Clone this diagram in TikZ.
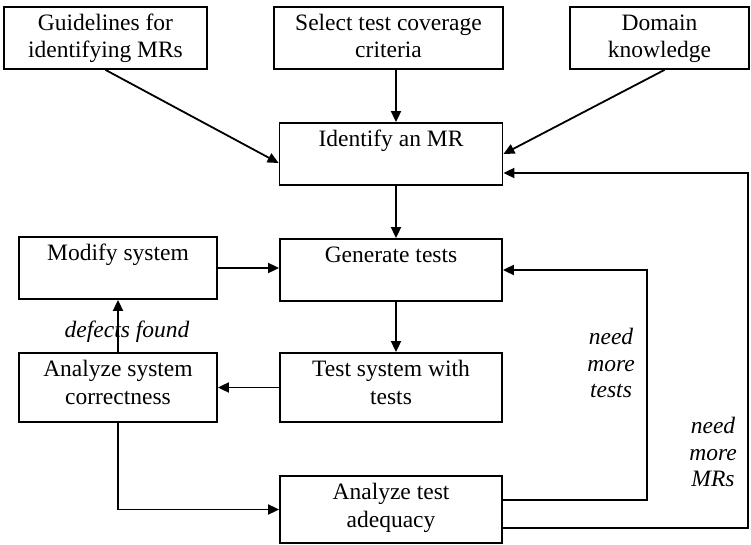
\documentclass[tikz,border=0pt]{standalone}
\usepackage{fontspec}
\setmainfont{Liberation Serif}
\usetikzlibrary{arrows.meta}
\newcommand{\boxtxt}[3]{\begin{minipage}[t][#2][t]{#1}\centering\rule{0pt}{23.5pt}#3\end{minipage}}
\begin{document}
\begin{tikzpicture}[x=1pt,y=-1pt,
  box/.style={draw, line width=1.8pt, inner sep=0pt, font=\fontsize{23.5}{27.5}\selectfont},
  arr/.style={line width=1.8pt, -{Triangle[length=11pt,width=10pt]}},
  lbl/.style={align=center, inner sep=0pt, font=\fontsize{23.5}{26.5}\selectfont\itshape}]
\useasboundingbox (0,0) rectangle (751,545);
\node[box] (guide) at (105.5,38) {\boxtxt{203pt}{62pt}{Guidelines for\\identifying MRs}};
\node[box] (select) at (388.5,38) {\boxtxt{229pt}{62pt}{Select test coverage\\criteria}};
\node[box] (domain) at (659.5,38) {\boxtxt{179pt}{62pt}{Domain\\knowledge}};
\node[box] (identify) at (391,154) {\boxtxt{223pt}{62pt}{Identify an MR}};
\node[box] (modify) at (118,268) {\boxtxt{198pt}{62pt}{Modify system}};
\node[box] (generate) at (391,270) {\boxtxt{222pt}{62pt}{Generate tests}};
\node[box] (anasys) at (118,387.5) {\boxtxt{198pt}{69pt}{Analyze system\\correctness}};
\node[box] (testsys) at (391,387.5) {\boxtxt{222pt}{69pt}{Test system with\\tests}};
\node[box] (adequacy) at (391,509.5) {\boxtxt{222pt}{67pt}{Analyze test\\adequacy}};
\coordinate (cx) at (396,0);
\coordinate (rtests) at (647,0);
\coordinate (rmrs) at (748,0);
\coordinate (mrin) at ([yshift=-19pt]identify.east);
\draw[arr] (guide.south) -- ([yshift=-9pt]identify.west);
\draw[arr] (select.south -| cx) -- (identify.north -| cx);
\draw[arr] ([xshift=5pt]domain.south) -- (identify.east);
\draw[arr] (identify.south -| cx) -- (generate.north -| cx);
\draw[arr] (generate.south -| cx) -- (testsys.north -| cx);
\draw[arr] (modify.east) -- (modify.east -| generate.west);
\draw[arr] (testsys.west) -- (testsys.west -| anasys.east);
\draw[arr] (anasys.north) -- (modify.south);
\draw[arr] (anasys.south) |- (adequacy.west);
\draw[arr] ([yshift=9.5pt]adequacy.east) -| (rtests |- generate.east) -- (generate.east);
\draw[arr] ([yshift=-18.5pt]adequacy.east) -| (rmrs |- mrin) -- (mrin);
\node[lbl, anchor=base] (defects) at (127,337) {defects found};
\node[lbl] (moretests) at (611,363) {need\\more\\tests};
\node[lbl] (moremrs) at (713,452) {need\\more\\MRs};
\end{tikzpicture}
\end{document}
